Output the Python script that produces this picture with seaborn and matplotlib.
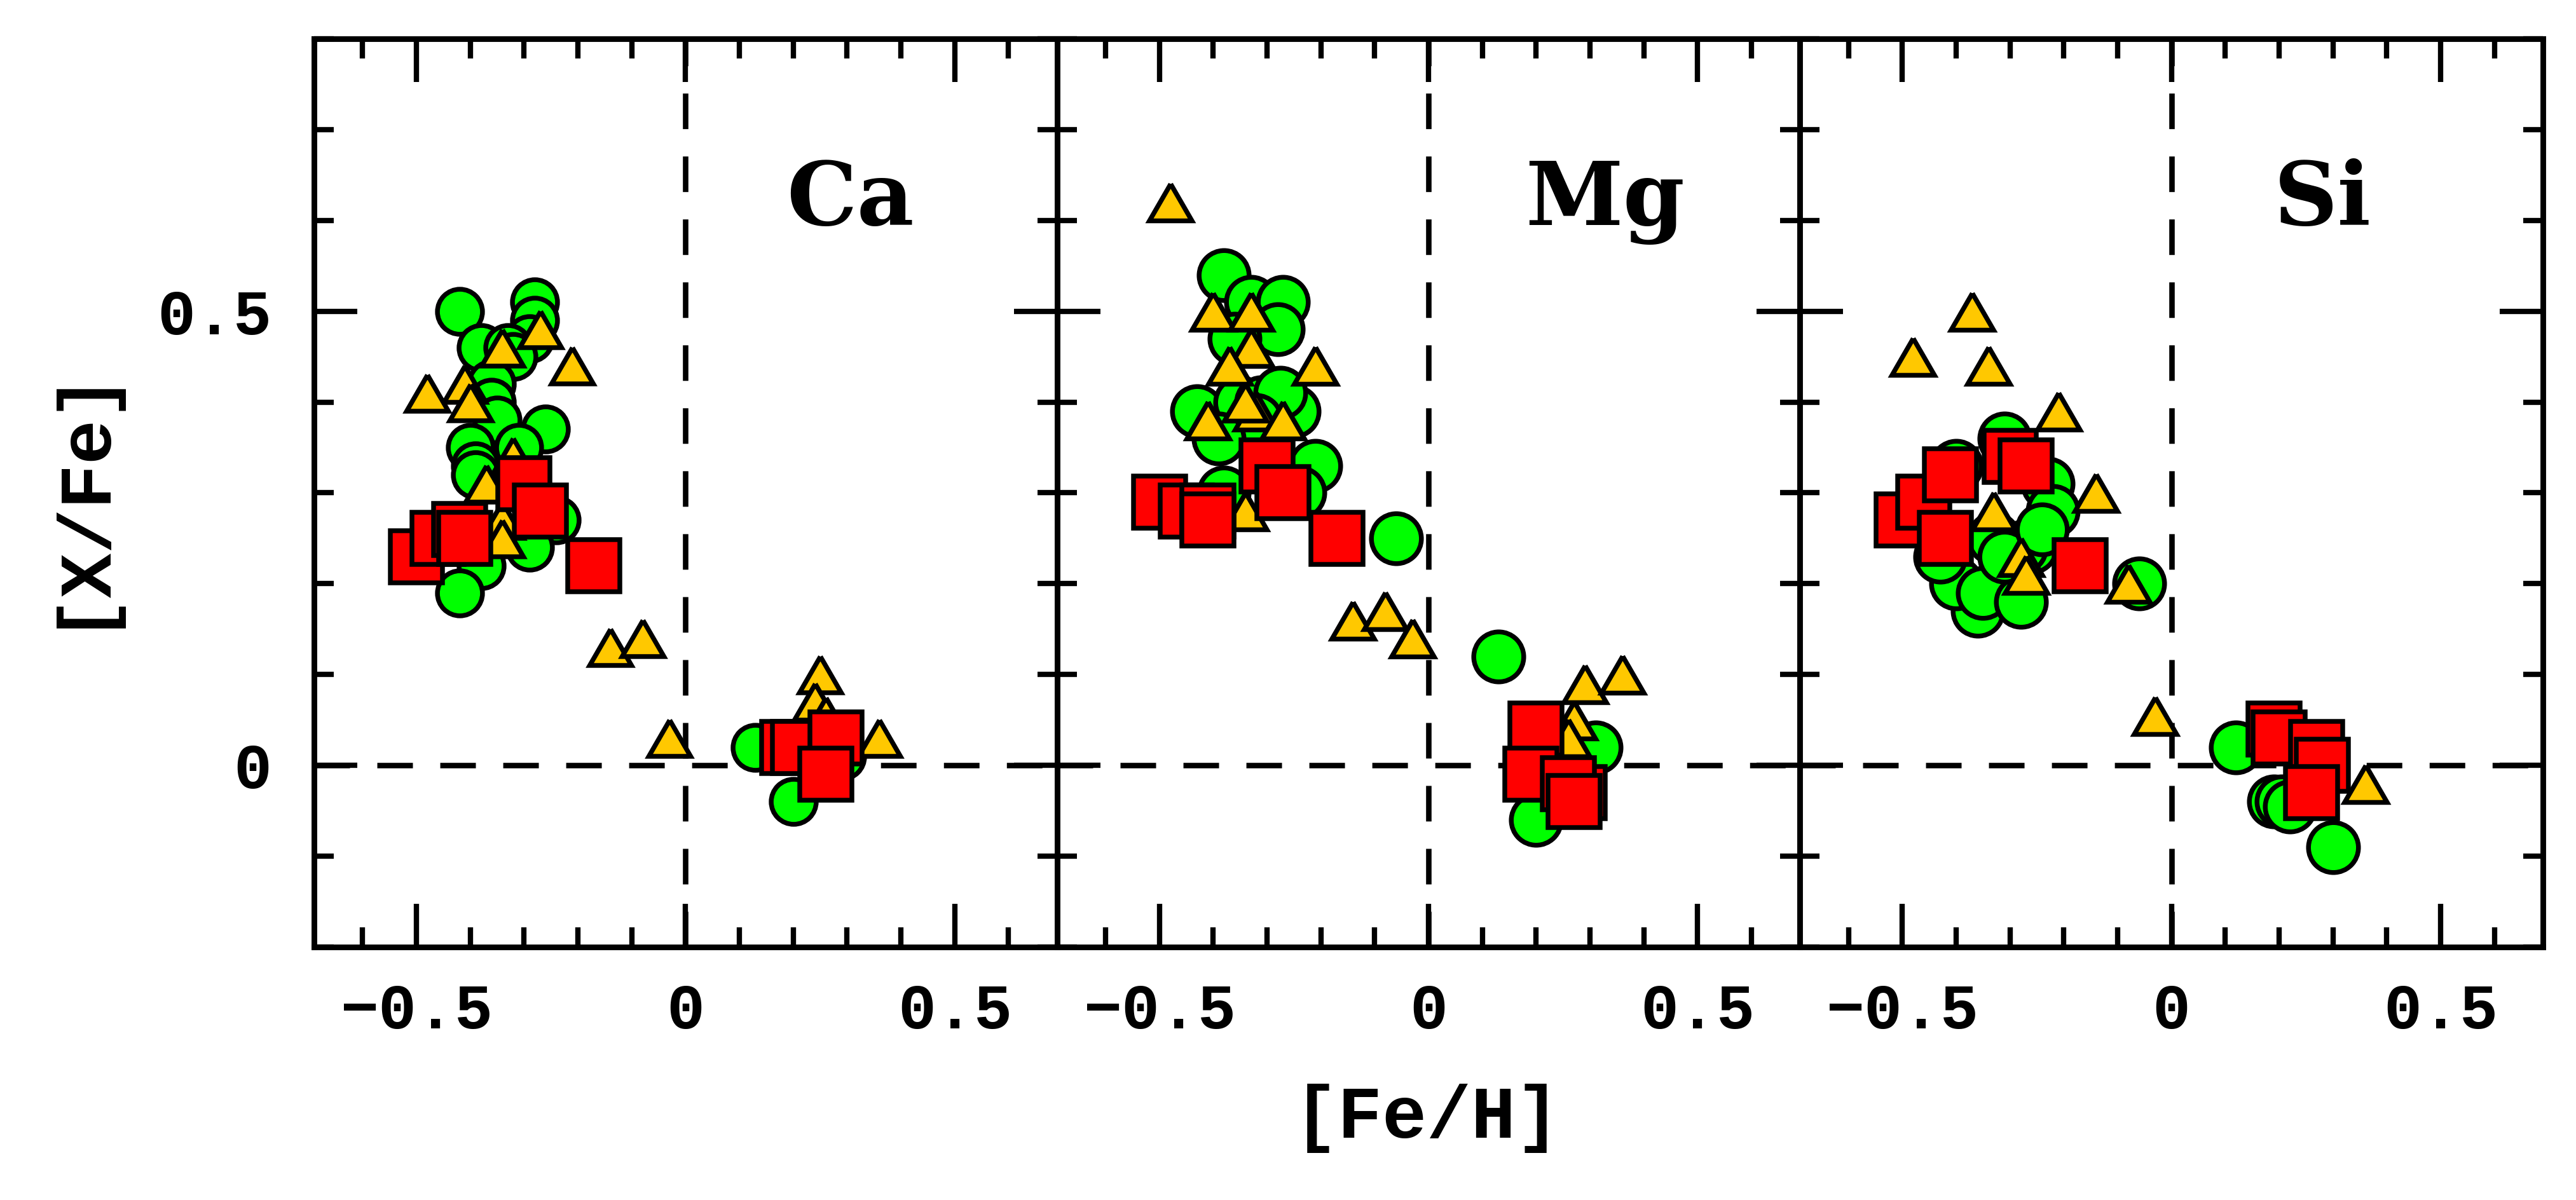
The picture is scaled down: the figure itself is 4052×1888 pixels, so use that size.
import numpy as np
import pandas as pd
import matplotlib
matplotlib.use("Agg")
import matplotlib.pyplot as plt
from matplotlib.markers import MarkerStyle
from matplotlib.ticker import MultipleLocator, FixedLocator, FixedFormatter
import seaborn as sns

# ---------------- data ----------------
elements = ["Ca", "Mg", "Si"]
element_label_x = [0.306, 0.328, 0.281]
element_label_y = 0.595

x_tick_values = [-0.5, 0.0, 0.5]
x_tick_labels = ["\u22120.5", "0", "0.5"]
y_tick_values = [0.0, 0.5]
y_tick_labels = ["0", "0.5"]

# Ca panel
ca_circle_x = [-0.42, -0.28, -0.28, -0.29, -0.38, -0.33, -0.32, -0.36, -0.36, -0.35,
               -0.26, -0.40, -0.31, -0.39, -0.39, -0.24, -0.29, -0.38, -0.42,
               0.13, 0.20, 0.29]
ca_circle_y = [0.50, 0.51, 0.49, 0.47, 0.46, 0.46, 0.45, 0.42, 0.40, 0.38,
               0.37, 0.35, 0.35, 0.33, 0.32, 0.27, 0.24, 0.22, 0.19,
               0.02, -0.04, 0.01]
ca_tri_x = [-0.27, -0.34, -0.21, -0.41, -0.48, -0.40, -0.32, -0.37, -0.34, -0.34,
            -0.14, -0.08, -0.03, 0.25, 0.24, 0.26, 0.36]
ca_tri_y = [0.48, 0.46, 0.44, 0.42, 0.41, 0.40, 0.34, 0.31, 0.27, 0.25,
            0.13, 0.14, 0.03, 0.10, 0.07, 0.055, 0.03]
ca_sq_x = [-0.50, -0.46, -0.42, -0.41, -0.30, -0.27, -0.17, 0.19, 0.21, 0.28, 0.26]
ca_sq_y = [0.23, 0.25, 0.26, 0.25, 0.31, 0.28, 0.22, 0.02, 0.02, 0.03, -0.01]

# Mg panel
mg_circle_x = [-0.38, -0.33, -0.27, -0.28, -0.36, -0.43, -0.25, -0.35, -0.31, -0.275,
               -0.32, -0.39, -0.21, -0.24, -0.38, -0.06, 0.13, 0.20, 0.31]
mg_circle_y = [0.54, 0.51, 0.51, 0.48, 0.47, 0.39, 0.39, 0.40, 0.40, 0.41,
               0.38, 0.36, 0.33, 0.30, 0.30, 0.25, 0.12, -0.06, 0.02]
mg_tri_x = [-0.48, -0.40, -0.33, -0.33, -0.37, -0.21, -0.32, -0.34, -0.27, -0.41,
            -0.34, -0.14, -0.08, -0.03, 0.29, 0.36, 0.27, 0.26]
mg_tri_y = [0.62, 0.50, 0.50, 0.46, 0.44, 0.44, 0.39, 0.40, 0.38, 0.38,
            0.28, 0.16, 0.17, 0.14, 0.09, 0.10, 0.05, 0.03]
mg_sq_x = [-0.50, -0.45, -0.41, -0.41, -0.30, -0.27, -0.17, 0.20, 0.19, 0.28, 0.26, 0.27]
mg_sq_y = [0.29, 0.28, 0.28, 0.27, 0.33, 0.30, 0.25, 0.04, -0.01, -0.03, -0.02, -0.04]

# Si panel
si_circle_x = [-0.06, -0.36, -0.40, -0.31, -0.23, -0.22, -0.26, -0.28, -0.40, -0.35,
               -0.28, -0.43, -0.33, -0.31, -0.24, 0.12, 0.30, 0.19, 0.205, 0.22]
si_circle_y = [0.20, 0.17, 0.33, 0.36, 0.31, 0.28, 0.24, 0.24, 0.20, 0.19,
               0.18, 0.23, 0.25, 0.23, 0.26, 0.02, -0.09, -0.04, -0.04, -0.045]
si_tri_x = [-0.37, -0.48, -0.34, -0.21, -0.14, -0.33, -0.28, -0.27, -0.08, -0.03, 0.36]
si_tri_y = [0.50, 0.45, 0.44, 0.39, 0.30, 0.28, 0.23, 0.21, 0.20, 0.055, -0.02]
si_sq_x = [-0.50, -0.46, -0.41, -0.42, -0.30, -0.27, -0.17, 0.19, 0.20, 0.27, 0.28, 0.26]
si_sq_y = [0.27, 0.29, 0.32, 0.25, 0.34, 0.33, 0.22, 0.04, 0.03, 0.02, 0.00, -0.03]

panels = [
    (ca_circle_x, ca_circle_y, ca_tri_x, ca_tri_y, ca_sq_x, ca_sq_y),
    (mg_circle_x, mg_circle_y, mg_tri_x, mg_tri_y, mg_sq_x, mg_sq_y),
    (si_circle_x, si_circle_y, si_tri_x, si_tri_y, si_sq_x, si_sq_y),
]

# ---------------- style ----------------
sns.set_style("ticks")
plt.rcParams["font.family"] = ["Liberation Mono", "DejaVu Sans Mono", "DejaVu Sans"]
plt.rcParams["text.color"] = "black"
plt.rcParams["axes.labelcolor"] = "black"
plt.rcParams["xtick.color"] = "black"
plt.rcParams["ytick.color"] = "black"
plt.rcParams["xtick.labelcolor"] = "black"
plt.rcParams["ytick.labelcolor"] = "black"

GREEN = "#00FF00"
GOLD = "#FFC800"
RED = "#FF0000"
EDGE_LW = 2.7

tri_marker = MarkerStyle([(0.0, 0.433), (-0.5, -0.433), (0.5, -0.433), (0.0, 0.433)])

circle_sizes = [650, 800, 800]
tri_sizes = [560, 580, 580]
square_size = 860

W, H, DPI = 4052, 1888, 200
fig = plt.figure(figsize=(W / DPI, H / DPI), dpi=DPI, facecolor="white")
left, right = 494 / W, 4000 / W
bottom, top = 1 - 1490 / H, 1 - 61 / H
pw = (right - left) / 3

for i, (cx, cy, tx, ty, sx, sy) in enumerate(panels):
    ax = fig.add_axes([left + i * pw, bottom, pw, top - bottom])
    ax.set_xlim(-0.69, 0.69)
    ax.set_ylim(-0.2, 0.8)

    ax.axhline(0, color="black", lw=3.1, ls=(0, (6.5, 5)), zorder=1)
    ax.axvline(0, color="black", lw=3.1, ls=(0, (6.5, 5)), zorder=1)

    sns.scatterplot(x=cx, y=cy, ax=ax, marker="o", s=circle_sizes[i], color=GREEN,
                    edgecolor="black", linewidth=EDGE_LW, legend=False, zorder=3)
    sns.scatterplot(x=tx, y=ty, ax=ax, marker=tri_marker, s=tri_sizes[i], color=GOLD,
                    edgecolor="black", linewidth=EDGE_LW, legend=False, zorder=4,
                    joinstyle="miter")
    sns.scatterplot(x=sx, y=sy, ax=ax, marker="s", s=square_size, color=RED,
                    edgecolor="black", linewidth=EDGE_LW, legend=False, zorder=5,
                    joinstyle="miter")

    ax.text(element_label_x[i], element_label_y, elements[i], ha="center",
            va="baseline", fontsize=50, fontweight="bold", family="DejaVu Serif",
            color="black", zorder=6)

    for sp in ax.spines.values():
        sp.set_linewidth(3.2)
        sp.set_color("black")
        sp.set_zorder(7)

    ax.xaxis.set_major_locator(FixedLocator(x_tick_values))
    ax.xaxis.set_major_formatter(FixedFormatter(x_tick_labels))
    ax.xaxis.set_minor_locator(MultipleLocator(0.1))
    ax.yaxis.set_major_locator(FixedLocator(y_tick_values))
    ax.yaxis.set_major_formatter(FixedFormatter(y_tick_labels))
    ax.yaxis.set_minor_locator(MultipleLocator(0.1))

    ax.tick_params(which="both", direction="in", top=True, right=True,
                   bottom=True, left=True, color="black", width=3.0,
                   labelcolor="black")
    ax.tick_params(which="major", length=24.5)
    ax.tick_params(which="minor", length=11)
    ax.tick_params(axis="x", which="major", pad=20, labelsize=36)
    ax.tick_params(axis="y", which="major", pad=24, labelsize=36,
                   labelleft=(i == 0))
    for lab in ax.get_xticklabels() + ax.get_yticklabels():
        lab.set_fontweight("bold")
    ax.set_xlabel("")
    ax.set_ylabel("")
    ax.set_facecolor("white")

fig.text(2245 / W, 1 - 1760 / H, "[Fe/H]", ha="center", va="center",
         fontsize=42, fontweight="bold", color="black")
fig.text(123 / W, 1 - 778 / H, "[X/Fe]", ha="center", va="center",
         rotation=90, fontsize=42, fontweight="bold", color="black")

fig.savefig("out.png", dpi=DPI, facecolor="white")
